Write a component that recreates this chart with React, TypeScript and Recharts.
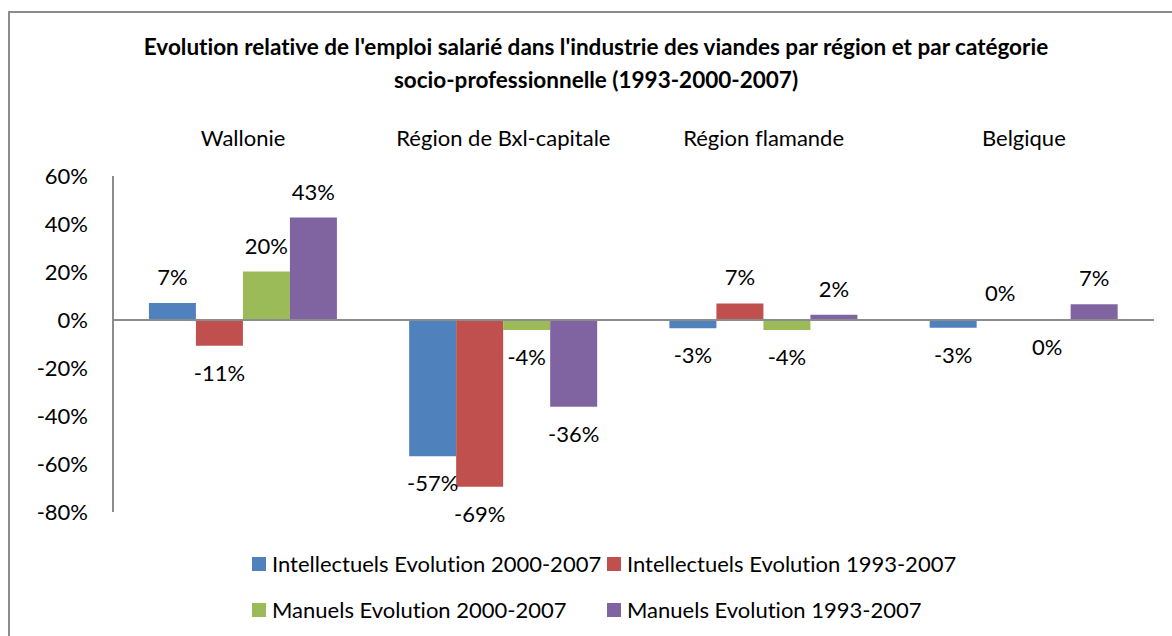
import React from "react";
import { BarChart, Bar, XAxis, YAxis, ReferenceLine, LabelList, Legend } from "recharts";

const regions = ["Wallonie", "Région de Bxl-capitale", "Région flamande", "Belgique"];
const intellectuels2000 = [7.1, -56.8, -3.4, -3.2];
const intellectuels1993 = [-10.7, -69.5, 6.9, 0.3];
const manuels2000 = [20.2, -4.2, -4.2, -0.2];
const manuels1993 = [42.7, -36.1, 2.2, 6.6];
const yTicks = [-80, -60, -40, -20, 0, 20, 40, 60];

const seriesNames = [
  "Intellectuels Evolution 2000-2007",
  "Intellectuels Evolution 1993-2007",
  "Manuels Evolution 2000-2007",
  "Manuels Evolution 1993-2007",
];
const seriesColors = ["#4F81BD", "#C0504D", "#9BBB59", "#8064A2"];
const seriesKeys = ["i2000", "i1993", "m2000", "m1993"];

const data = regions.map((r, i) => ({
  region: r,
  i2000: intellectuels2000[i],
  i1993: intellectuels1993[i],
  m2000: manuels2000[i],
  m1993: manuels1993[i],
}));

const FONT = "Lato, 'Open Sans', sans-serif";
const AXIS_GRAY = "#8c8c8c";
const FS = 22;
const noLig: React.CSSProperties = { fontVariantLigatures: "none", fontFeatureSettings: "'liga' 0, 'clig' 0" };

const renderLabel = (props: any) => {
  const { x, y, width, height, value } = props;
  const top = Math.min(y, y + height);
  const bottom = Math.max(y, y + height);
  const cy = value >= 0 ? top - 26 : bottom + 27;
  const r = Math.round(value);
  const txt = `${r === 0 ? 0 : r}%`;
  return (
    <text
      x={x + width / 2}
      y={cy}
      dy={8}
      textAnchor="middle"
      fontFamily={FONT}
      fontSize={FS}
      fill="#000"
      style={noLig}
    >
      {txt}
    </text>
  );
};

const renderLegend = () => {
  return (
    <div
      style={{
        display: "grid",
        gridTemplateColumns: "355px 400px",
        gridAutoRows: "46px",
        paddingLeft: 252,
        fontFamily: FONT,
        fontSize: FS,
        color: "#000",
        ...noLig,
      }}
    >
      {seriesNames.map((n, i) => (
        <div key={n} style={{ display: "flex", alignItems: "center", height: 46 }}>
          <span
            style={{
              display: "inline-block",
              width: 14,
              height: 14,
              background: seriesColors[i],
              marginRight: 6,
            }}
          />
          <span style={{ whiteSpace: "nowrap", lineHeight: "46px" }}>{n}</span>
        </div>
      ))}
    </div>
  );
};

export default function App() {
  return (
    <div
      style={{
        position: "absolute",
        left: 0,
        top: 0,
        width: 1172,
        height: 636,
        overflow: "hidden",
        background: "#fff",
      }}
    >
      <div
        style={{
          position: "absolute",
          left: 8,
          top: 11,
          width: 1200,
          height: 700,
          borderLeft: `2px solid ${AXIS_GRAY}`,
          borderTop: `2px solid ${AXIS_GRAY}`,
        }}
      />
      <div
        style={{
          position: "absolute",
          left: 0,
          top: 30,
          width: 1192,
          textAlign: "center",
          fontFamily: FONT,
          fontWeight: 700,
          fontSize: 22.5,
          lineHeight: "33px",
          color: "#000",
          ...noLig,
        }}
      >
        Evolution relative de l'emploi salarié dans l'industrie des viandes par région et par catégorie
        <br />
        socio-professionnelle (1993-2000-2007)
      </div>
      <div style={{ position: "absolute", left: 0, top: 0 }}>
        <BarChart
          width={1172}
          height={636}
          data={data}
          margin={{ top: 136, right: 18, bottom: 124, left: 0 }}
          barCategoryGap="13.8%"
          barGap={0}
        >
          <XAxis
            dataKey="region"
            orientation="top"
            height={40}
            axisLine={false}
            tickLine={false}
            tickSize={0}
            tickMargin={30}
            tick={{ fontFamily: FONT, fontSize: FS, fill: "#000", style: noLig }}
            interval={0}
          />
          <YAxis
            width={113}
            domain={[-80, 60]}
            ticks={yTicks}
            tickFormatter={(v: number) => `${v}%`}
            axisLine={{ stroke: AXIS_GRAY, strokeWidth: 2 }}
            tickLine={false}
            tickSize={0}
            tickMargin={25}
            tick={{ fontFamily: FONT, fontSize: FS, fill: "#000" }}
            allowDataOverflow
          />
          <ReferenceLine y={0} stroke={AXIS_GRAY} strokeWidth={2} />
          {seriesKeys.map((k, i) => (
            <Bar
              key={k}
              dataKey={k}
              name={seriesNames[i]}
              fill={seriesColors[i]}
              isAnimationActive={false}
            >
              <LabelList dataKey={k} content={renderLabel} />
            </Bar>
          ))}
          <Legend
            layout="horizontal"
            verticalAlign="middle"
            align="center"
            wrapperStyle={{ top: 541, left: 0, width: 1172 }}
            content={renderLegend}
          />
        </BarChart>
      </div>
    </div>
  );
}
